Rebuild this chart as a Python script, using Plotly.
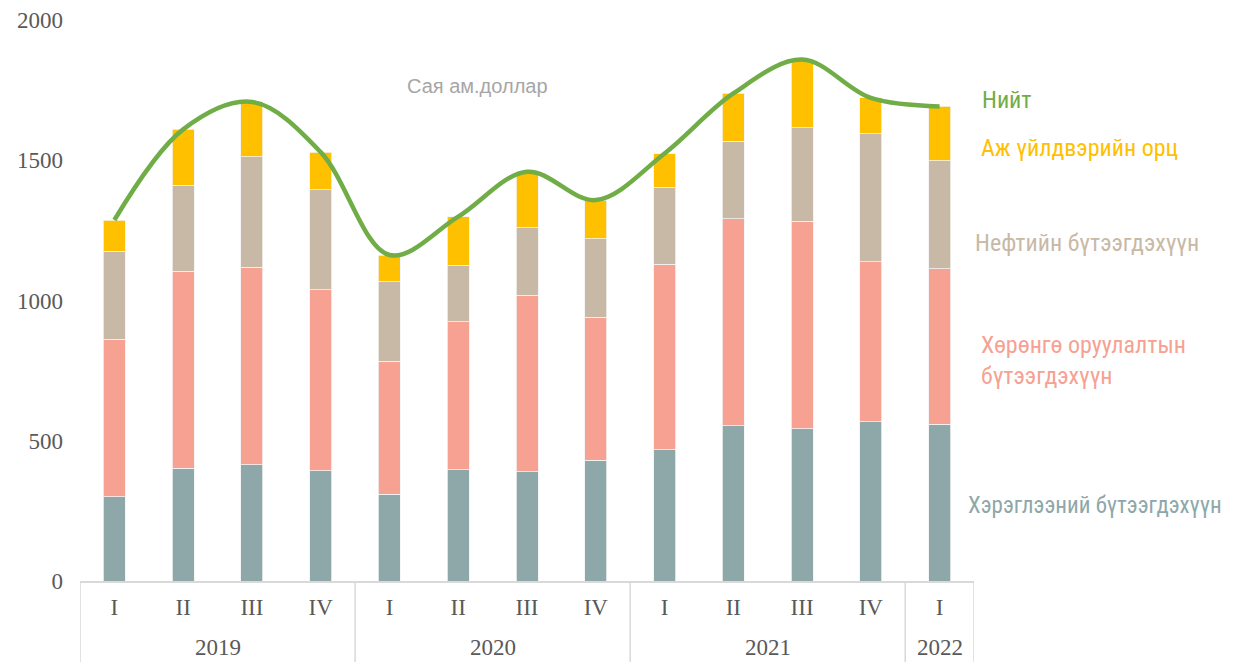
import plotly.graph_objects as go

years = ["2019"] * 4 + ["2020"] * 4 + ["2021"] * 4 + ["2022"]
quarters = ["I", "II", "III", "IV", "I", "II", "III", "IV", "I", "II", "III", "IV", "I"]

consumer = [300, 402, 415, 393, 310, 397, 390, 431, 468, 554, 543, 568, 558]
investment = [562, 702, 703, 646, 473, 528, 628, 509, 661, 738, 740, 571, 556]
petroleum = [314, 307, 395, 355, 284, 200, 242, 280, 275, 275, 332, 456, 384]
industrial = [111, 199, 195, 135, 95, 174, 199, 138, 120, 171, 244, 127, 194]
total = [c + i + p + d for c, i, p, d in zip(consumer, investment, petroleum, industrial)]

names = ["Хэрэглээний бүтээгдэхүүн", "Хөрөнгө оруулалтын бүтээгдэхүүн",
         "Нефтийн бүтээгдэхүүн", "Аж үйлдвэрийн орц", "Нийт"]
colors = ["#8EA7A9", "#F6A192", "#C8B9A6", "#FFC000", "#70AD47"]

idx = list(range(len(quarters)))
fig = go.Figure()
for vals, name, col in zip([consumer, investment, petroleum, industrial], names[:4], colors[:4]):
    fig.add_trace(go.Bar(x=idx, y=vals, name=name,
                         marker=dict(color=col, line=dict(color="#F2F2F2", width=0.8))))
fig.add_trace(go.Scatter(x=idx, y=total, name=names[4], mode="lines",
                         line=dict(color=colors[4], width=4.5, shape="spline", smoothing=1.0)))

# page is offset by the 8px body margin
OFF = 8
W, H = 1234 - OFF, 662 - OFF
PL, PR, PT, PB = 80, 974, 20, 581  # plot area in page pixels
L, T = PL - OFF, PT - OFF
pw, ph = PR - PL, PB - PT
R, B = W - L - pw, H - T - ph

def px(xp):
    return (xp - PL) / pw

def py(yp):
    return (PB - yp) / ph

serif = "Liberation Serif, Times New Roman, serif"
grey_txt = "#595959"
axis_col = "#D9D9D9"

ann_font = "Roboto Condensed, Liberation Sans Narrow, Roboto, sans-serif"
anns = [
    ("Нийт", 980, 100, colors[4], 24),
    ("Аж үйлдвэрийн орц", 979, 148, colors[3], 24),
    ("Нефтийн бүтээгдэхүүн", 973, 243, colors[2], 24),
    ("Хөрөнгө оруулалтын<br>бүтээгдэхүүн", 979, 360, colors[1], 24),
    ("Хэрэглээний бүтээгдэхүүн", 966, 505, colors[0], 23),
]
for text, xp, yp, col, sz in anns:
    fig.add_annotation(text=text, xref="paper", yref="paper", x=px(xp), y=py(yp),
                       xanchor="left", yanchor="middle", align="left", showarrow=False,
                       font=dict(family=ann_font, size=sz, color=col))
fig.add_annotation(text="Сая ам.доллар", xref="paper", yref="paper", x=px(477), y=py(86),
                   xanchor="center", yanchor="middle", showarrow=False,
                   font=dict(family="Liberation Sans, Arial", size=20, color="#A6A6A6"))

# year group labels and dividers
groups = []
for i, yv in enumerate(years):
    if not groups or groups[-1][0] != yv:
        groups.append([yv, i, i])
    else:
        groups[-1][2] = i
bottom = py(H + OFF)
bounds = sorted({g[1] - 0.5 for g in groups} | {g[2] + 0.5 for g in groups})
for bx in bounds:
    fig.add_shape(type="line", xref="x", yref="paper", x0=bx, x1=bx, y0=0, y1=bottom,
                  line=dict(color=axis_col, width=1.5))
for yv, a, b in groups:
    fig.add_annotation(text=yv, xref="x", yref="paper", x=(a + b) / 2, y=py(662),
                       xanchor="center", yanchor="bottom", showarrow=False,
                       font=dict(family=serif, size=23, color=grey_txt))

fig.update_layout(
    width=W, height=H,
    margin=dict(l=L, r=R, t=T, b=B, autoexpand=False),
    barmode="stack", bargap=0.68,
    plot_bgcolor="white", paper_bgcolor="white",
    showlegend=False,
    font=dict(family=serif, size=23, color=grey_txt),
)
fig.update_xaxes(range=[-0.5, len(idx) - 0.5], tickvals=idx, ticktext=quarters,
                 showline=True, linecolor=axis_col, linewidth=1.5,
                 ticks="", showgrid=False, zeroline=False, automargin=False,
                 ticklabelstandoff=5,
                 tickfont=dict(family=serif, size=23, color=grey_txt))
fig.update_yaxes(range=[0, 2000], tickvals=[0, 500, 1000, 1500, 2000], showgrid=False,
                 zeroline=False, showline=False, ticks="", automargin=False,
                 ticklabelstandoff=16,
                 tickfont=dict(family=serif, size=23, color=grey_txt))

fig.write_html("out.html")
